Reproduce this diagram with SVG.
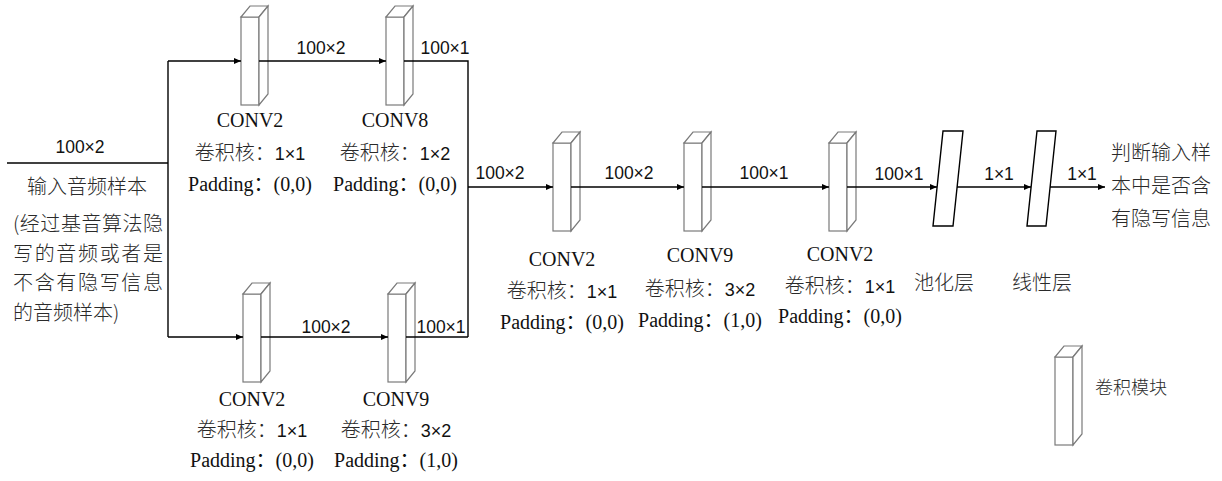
<svg xmlns="http://www.w3.org/2000/svg" xmlns:xlink="http://www.w3.org/1999/xlink" width="1222" height="481" viewBox="0 0 1222 481">
<style>
.bg{fill:#ffffff}
.box{fill:#ffffff;stroke:#7a7a7a;stroke-width:1.2;stroke-linejoin:miter}
.layer{fill:#ffffff;stroke:#000000;stroke-width:1.4}
.conn{fill:none;stroke:#000000;stroke-width:1.4}
.num{font-family:"Liberation Sans",Arial,sans-serif;font-size:17.5px;fill:#111111}
.conv{font-family:"Liberation Serif","Noto Sans CJK SC",serif;font-size:20px;fill:#111111}
.cjk{font-family:"Noto Sans CJK SC",sans-serif;font-size:20px;font-weight:300;fill:#2a2a2a}
.cjks{font-family:"Noto Sans CJK SC",sans-serif;font-size:18px;font-weight:300;fill:#2a2a2a}
.k{font-family:"Liberation Sans",Arial,sans-serif;font-size:18px;font-weight:400;fill:#111111}
.mid{text-anchor:middle}
</style>
<defs>
<marker id="arr" markerUnits="userSpaceOnUse" markerWidth="8" markerHeight="7" refX="7" refY="3" orient="auto">
<path d="M0,0 L7,3 L0,6 z" fill="#000000"/>
</marker>
<g id="cbox">
<rect class="box" x="0" y="0" width="18" height="88"/>
<path class="box" d="M0,0 L9,-11 L27,-11 L18,0 z"/>
<path class="box" d="M18,0 L27,-11 L27,77 L18,88 z"/>
</g>
</defs>
<rect class="bg" x="0" y="0" width="1222" height="481"/>

<g id="input">
<text class="num mid" x="80" y="153">100×2</text>
<text class="cjk" x="27" y="194">输入音频样本</text>
<text class="cjk" x="13" y="231" textLength="150" lengthAdjust="spacing">(经过基音算法隐</text>
<text class="cjk" x="13" y="261" textLength="150" lengthAdjust="spacing">写的音频或者是</text>
<text class="cjk" x="13" y="290" textLength="150" lengthAdjust="spacing">不含有隐写信息</text>
<text class="cjk" x="13" y="320">的音频样本)</text>
</g>

<g id="top-conv2">
<use xlink:href="#cbox" x="241" y="17"/>
<text class="conv mid" x="250" y="127">CONV2</text>
<text class="cjk mid" x="250" y="160">卷积核：<tspan class="k">1×1</tspan></text>
<text class="conv mid" x="250" y="191">Padding：(0,0)</text>
</g>

<g id="top-conv8">
<use xlink:href="#cbox" x="386" y="17"/>
<text class="conv mid" x="395" y="127">CONV8</text>
<text class="cjk mid" x="395" y="160">卷积核：<tspan class="k">1×2</tspan></text>
<text class="conv mid" x="395" y="191">Padding：(0,0)</text>
</g>

<g id="bot-conv2">
<use xlink:href="#cbox" x="243" y="294"/>
<text class="conv mid" x="252" y="406">CONV2</text>
<text class="cjk mid" x="252" y="437">卷积核：<tspan class="k">1×1</tspan></text>
<text class="conv mid" x="252" y="467">Padding：(0,0)</text>
</g>

<g id="bot-conv9">
<use xlink:href="#cbox" x="388" y="294"/>
<text class="conv mid" x="396" y="406">CONV9</text>
<text class="cjk mid" x="396" y="437">卷积核：<tspan class="k">3×2</tspan></text>
<text class="conv mid" x="396" y="467">Padding：(1,0)</text>
</g>

<g id="main-conv2a">
<use xlink:href="#cbox" x="553" y="143"/>
<text class="conv mid" x="562" y="266">CONV2</text>
<text class="cjk mid" x="562" y="298">卷积核：<tspan class="k">1×1</tspan></text>
<text class="conv mid" x="562" y="329">Padding：(0,0)</text>
</g>

<g id="main-conv9">
<use xlink:href="#cbox" x="684" y="143"/>
<text class="conv mid" x="700" y="262">CONV9</text>
<text class="cjk mid" x="700" y="296">卷积核：<tspan class="k">3×2</tspan></text>
<text class="conv mid" x="700" y="327">Padding：(1,0)</text>
</g>

<g id="main-conv2b">
<use xlink:href="#cbox" x="829" y="143"/>
<text class="conv mid" x="840" y="261">CONV2</text>
<text class="cjk mid" x="840" y="293">卷积核：<tspan class="k">1×1</tspan></text>
<text class="conv mid" x="840" y="323">Padding：(0,0)</text>
</g>

<g id="pool">
<path class="layer" d="M943,131 L963,131 L953,226 L933,226 z"/>
<text class="cjk mid" x="944" y="290">池化层</text>
</g>

<g id="linear">
<path class="layer" d="M1037,131 L1056,131 L1046,226 L1027,226 z"/>
<text class="cjk mid" x="1042" y="290">线性层</text>
</g>

<g id="output">
<text class="cjk" x="1111" y="160">判断输入样</text>
<text class="cjk" x="1111" y="193">本中是否含</text>
<text class="cjk" x="1111" y="226">有隐写信息</text>
</g>

<g id="legend">
<use xlink:href="#cbox" x="1055" y="357"/>
<text class="cjks" x="1095" y="394">卷积模块</text>
</g>

<g id="connectors">
<path class="conn" d="M7,163 H168"/>
<path class="conn" d="M168,61 V337"/>
<path class="conn" d="M168,61 H241" marker-end="url(#arr)"/>
<path class="conn" d="M259,61 H386" marker-end="url(#arr)"/>
<path class="conn" d="M404,61 H468 V337"/>
<path class="conn" d="M168,337 H243" marker-end="url(#arr)"/>
<path class="conn" d="M261,337 H388" marker-end="url(#arr)"/>
<path class="conn" d="M406,337 H468"/>
<path class="conn" d="M468,187 H553" marker-end="url(#arr)"/>
<path class="conn" d="M571,187 H684" marker-end="url(#arr)"/>
<path class="conn" d="M702,187 H829" marker-end="url(#arr)"/>
<path class="conn" d="M847,187 H937" marker-end="url(#arr)"/>
<path class="conn" d="M957,187 H1031" marker-end="url(#arr)"/>
<path class="conn" d="M1050,187 H1105" marker-end="url(#arr)"/>
</g>

<g id="connector-labels">
<text class="num mid" x="321" y="54">100×2</text>
<text class="num mid" x="445" y="54">100×1</text>
<text class="num mid" x="326" y="333">100×2</text>
<text class="num mid" x="441" y="333">100×1</text>
<text class="num mid" x="500" y="179">100×2</text>
<text class="num mid" x="629" y="179">100×2</text>
<text class="num mid" x="764" y="179">100×1</text>
<text class="num mid" x="899" y="180">100×1</text>
<text class="num mid" x="999" y="180">1×1</text>
<text class="num mid" x="1082" y="180">1×1</text>
</g>
</svg>
